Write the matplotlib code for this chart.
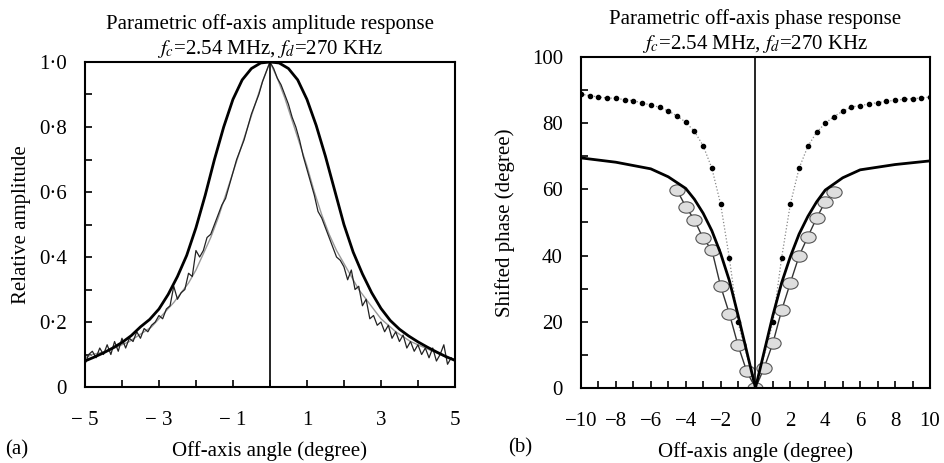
import numpy as np
import matplotlib
matplotlib.use('Agg')
import matplotlib.pyplot as plt
from matplotlib.path import Path
from matplotlib.transforms import Affine2D

plt.rcParams['font.family'] = 'Liberation Serif'
plt.rcParams['mathtext.fontset'] = 'stix'

# ---- (a) amplitude response ----
theory_x = [-5, -4.75, -4.5, -4.25, -4, -3.75, -3.5, -3.25, -3, -2.75, -2.5, -2.25, -2, -1.75,
            -1.5, -1.25, -1, -0.75, -0.5, -0.25, 0, 0.25, 0.5, 0.75, 1, 1.25, 1.5, 1.75, 2,
            2.25, 2.5, 2.75, 3, 3.25, 3.5, 3.75, 4, 4.25, 4.5, 4.75, 5]
theory_amp = [0.080, 0.092, 0.105, 0.120, 0.137, 0.158, 0.185, 0.208, 0.240, 0.285, 0.340, 0.405,
              0.490, 0.590, 0.700, 0.800, 0.885, 0.945, 0.980, 0.997, 1.000, 0.997, 0.980, 0.945,
              0.885, 0.805, 0.710, 0.605, 0.500, 0.415, 0.348, 0.290, 0.242, 0.205, 0.178, 0.157,
              0.139, 0.123, 0.108, 0.094, 0.082]

meas_x = [round(-5 + 0.1 * i, 1) for i in range(101)]
meas_amp = [0.07, 0.10, 0.11, 0.09, 0.12, 0.10, 0.13, 0.10, 0.14, 0.11,
            0.15, 0.12, 0.15, 0.14, 0.17, 0.15, 0.18, 0.17, 0.19, 0.20,
            0.22, 0.21, 0.24, 0.25, 0.31, 0.27, 0.29, 0.30, 0.35, 0.34,
            0.42, 0.40, 0.42, 0.46, 0.47, 0.50, 0.53, 0.56, 0.58, 0.62,
            0.66, 0.70, 0.73, 0.76, 0.80, 0.84, 0.87, 0.90, 0.94, 0.97,
            1.00,
            0.98, 0.95, 0.93, 0.90, 0.87, 0.83, 0.80, 0.76, 0.71, 0.67,
            0.63, 0.59, 0.54, 0.52, 0.49, 0.46, 0.43, 0.40, 0.39, 0.37,
            0.33, 0.36, 0.30, 0.31, 0.25, 0.27, 0.21, 0.22, 0.19, 0.20,
            0.17, 0.19, 0.15, 0.17, 0.14, 0.16, 0.12, 0.14, 0.11, 0.13,
            0.10, 0.12, 0.09, 0.12, 0.08, 0.10, 0.13, 0.07, 0.09, 0.08]

meas2_x = [round(-5 + 0.2 * i, 1) for i in range(51)]
meas2_amp = [0.09, 0.10, 0.105, 0.11, 0.12, 0.13, 0.14, 0.155, 0.17, 0.185,
             0.21, 0.235, 0.26, 0.29, 0.32, 0.36, 0.41, 0.46, 0.52, 0.59,
             0.66, 0.73, 0.80, 0.87, 0.94, 1.00, 0.95, 0.89, 0.82, 0.75,
             0.68, 0.60, 0.53, 0.47, 0.42, 0.38, 0.34, 0.30, 0.27, 0.24,
             0.21, 0.19, 0.17, 0.155, 0.14, 0.13, 0.12, 0.11, 0.10, 0.09, 0.085]

# ---- (b) phase response ----
ph_theory_x = [-10, -8, -6, -5, -4, -3.5, -3, -2.5, -2, -1.5, -1, -0.5, 0,
               0.5, 1, 1.5, 2, 2.5, 3, 3.5, 4, 5, 6, 8, 10]
ph_theory = [69.5, 68.2, 66.2, 63.8, 60.3, 57.0, 52.8, 47.5, 40.7, 32.5, 22.0, 11.0, 0,
             11.0, 22.0, 31.8, 39.7, 46.5, 51.8, 56.2, 59.8, 63.5, 65.9, 67.5, 68.6]

dot_x = [-10, -9.5, -9, -8.5, -8, -7.5, -7, -6.5, -6, -5.5, -5, -4.5, -4, -3.5, -3, -2.5,
         -2, -1.5, -1, 0, 1, 1.5, 2, 2.5, 3, 3.5, 4, 4.5, 5, 5.5, 6, 6.5, 7, 7.5, 8, 8.5,
         9, 9.5, 10]
dot_phase = [88.8, 88.3, 87.9, 87.6, 87.5, 87.1, 86.8, 86.1, 85.5, 84.8, 83.7, 82.2, 80.3,
             77.5, 73.2, 66.4, 55.6, 39.4, 19.8, 0, 19.8, 39.4, 55.6, 66.4, 73.0, 77.2, 80.0,
             82.0, 83.6, 84.9, 85.3, 85.8, 86.2, 86.6, 86.9, 87.2, 87.4, 87.6, 87.9]

circ_x = [-4.5, -4, -3.5, -3, -2.5, -2, -1.5, -1, -0.5, 0, 0.5, 1, 1.5, 2, 2.5, 3, 3.5, 4, 4.5]
circ_phase = [59.8, 54.8, 50.8, 45.2, 41.7, 30.8, 22.5, 12.9, 5.0, 0, 6.1, 13.6, 23.5, 31.8,
              39.9, 45.7, 51.3, 56.3, 59.1]

fig = plt.figure(figsize=(9.45, 4.63), dpi=100)
ax1 = fig.add_axes([0.0899, 0.1641, 0.3915, 0.702])
ax2 = fig.add_axes([0.6148, 0.162, 0.3693, 0.715])

fs = 15
title_sub = r'$f_c$=2.54 MHz, $f_d$=270 KHz'

ax1.plot(meas2_x, meas2_amp, color='#999999', lw=1.0)
ax1.plot(meas_x, meas_amp, color='#222222', lw=0.9)
ax1.plot(theory_x, theory_amp, color='black', lw=2.0)
ax1.axvline(0, color='black', lw=1.2)
ax1.set_xlim(-5, 5)
ax1.set_ylim(0, 1.0)
ax1.set_xticks(range(-5, 6))
ax1.set_xticklabels([('\u2212 %d' % -v) if v in (-5, -3, -1) else str(v) if v in (1, 3, 5) else ''
                     for v in range(-5, 6)])
ax1.set_yticks(np.arange(0, 1.01, 0.1))
ax1.set_yticklabels(['0' if i == 0 else ('%.1f' % (i / 10)).replace('.', '\u00b7') if i % 2 == 0 else ''
                     for i in range(11)])
ax1.set_xlabel('Off-axis angle (degree)', fontsize=fs, labelpad=8)
ax1.set_ylabel('Relative amplitude', fontsize=fs, labelpad=6)
ax1.set_title('Parametric off-axis amplitude response\n' + title_sub, fontsize=fs,
              linespacing=1.2, pad=6)
ax1.text(-0.216, -0.192, '(a)', transform=ax1.transAxes, fontsize=fs, ha='left', va='center')

ell = Path.unit_circle().transformed(Affine2D().scale(1.35, 1.0))
ax2.plot(dot_x, dot_phase, color='#888888', lw=0.9, ls=':', marker='o', ms=3,
         mfc='black', mec='black')
ax2.plot(circ_x, circ_phase, color='#333333', lw=1.0, marker=ell, ms=11,
         mfc='#dedede', mec='#555555', mew=0.8)
ax2.plot(ph_theory_x, ph_theory, color='black', lw=2.0)
ax2.axvline(0, color='black', lw=1.2)
ax2.set_xlim(-10, 10)
ax2.set_ylim(0, 100)
ax2.set_xticks(range(-10, 11))
ax2.set_xticklabels([(str(v).replace('-', '\u2212') if v % 2 == 0 else '') for v in range(-10, 11)])
ax2.set_yticks(range(0, 101, 10))
ax2.set_yticklabels([str(v) if v % 20 == 0 else '' for v in range(0, 101, 10)])
ax2.set_xlabel('Off-axis angle (degree)', fontsize=fs, labelpad=8)
ax2.set_ylabel('Shifted phase (degree)', fontsize=fs, labelpad=12)
ax2.set_title('Parametric off-axis phase response\n' + title_sub, fontsize=fs,
              linespacing=1.2, pad=6)
ax2.text(-0.209, -0.182, '(b)', transform=ax2.transAxes, fontsize=fs, ha='left', va='center')

for ax in (ax1, ax2):
    for s in ax.spines.values():
        s.set_linewidth(1.5)
    ax.tick_params(direction='in', length=5, width=1.2, labelsize=fs, top=False, right=False)
    ax.tick_params(axis='x', pad=17)
    ax.tick_params(axis='y', pad=13)

fig.savefig('out.png', dpi=100)
